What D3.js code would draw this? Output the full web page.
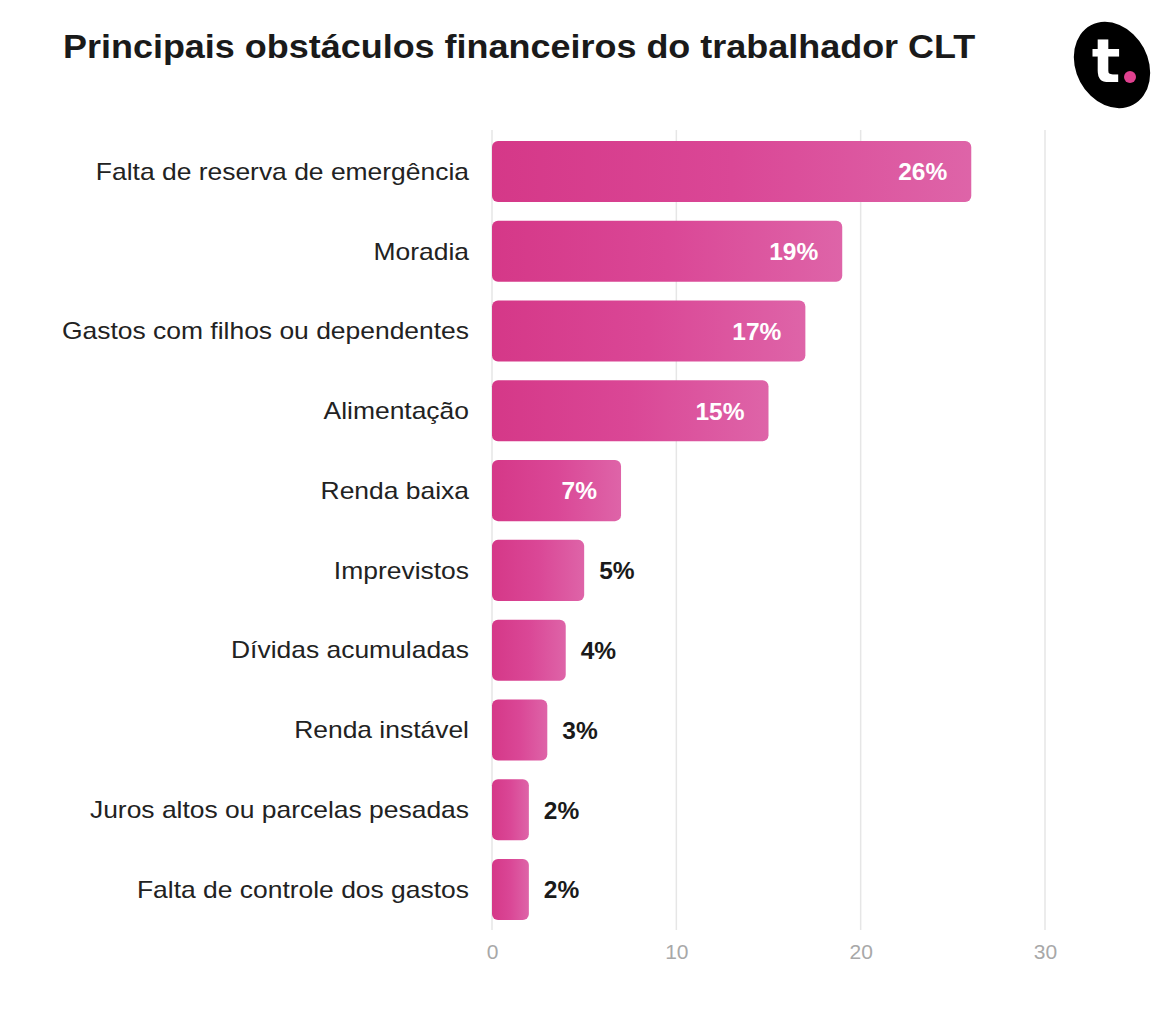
<!DOCTYPE html>
<html><head><meta charset="utf-8">
<script src="https://cdn.jsdelivr.net/npm/d3@7"></script>
<style>
html,body{margin:0;padding:0;background:#fff;}
svg{display:block;font-family:"Liberation Sans",Arial,sans-serif;}
</style></head>
<body><svg id="c" width="1166" height="1026"></svg>
<script>
const categories = ["Falta de reserva de emergência","Moradia","Gastos com filhos ou dependentes","Alimentação","Renda baixa","Imprevistos","Dívidas acumuladas","Renda instável","Juros altos ou parcelas pesadas","Falta de controle dos gastos"];
const values = [26,19,17,15,7,5,4,3,2,2];
const tickValues = [0,10,20,30];
const title = "Principais obstáculos financeiros do trabalhador CLT";

const svg = d3.select("#c");
const x = d3.scaleLinear().domain([0,30]).range([492,1045]);
const y = d3.scaleBand().domain(categories).range([133,928]).paddingInner(0.235).paddingOuter(0.1);

const defs = svg.append("defs");
const g = defs.append("linearGradient").attr("id","bg").attr("x1","0").attr("x2","1").attr("y1","0").attr("y2","0");
g.append("stop").attr("offset","0").attr("stop-color","#d53888");
g.append("stop").attr("offset","0.5").attr("stop-color","#da4796");
g.append("stop").attr("offset","1").attr("stop-color","#de64a8");

svg.append("text").attr("transform","translate(63,58) scale(1.09,1)").attr("font-size",33).attr("font-weight","bold").attr("fill","#1a1a1a").text(title);

// grid
svg.append("g").selectAll("line").data(tickValues).join("line")
  .attr("x1",d=>x(d)).attr("x2",d=>x(d)).attr("y1",130).attr("y2",930)
  .attr("stroke","#e6e6e6").attr("stroke-width",1.5);

// axis
const ax = svg.append("g").attr("transform","translate(0,930)").call(d3.axisBottom(x).tickValues(tickValues).tickSize(0).tickPadding(14));
ax.select(".domain").remove();
ax.selectAll("text").attr("font-size",21).attr("fill","#a8a8a8").attr("font-family","Liberation Sans, Arial, sans-serif");

// bars
svg.append("g").selectAll("rect").data(values).join("rect")
  .attr("x",x(0)).attr("y",(d,i)=>y(categories[i])).attr("width",d=>x(d)-x(0)).attr("height",y.bandwidth())
  .attr("rx",6).attr("fill","url(#bg)");

// category labels
svg.append("g").selectAll("text").data(categories).join("text")
  .attr("transform",d=>`translate(469,${y(d)+y.bandwidth()/2}) scale(1.15,1)`)
  .attr("dy","0.36em").attr("text-anchor","end")
  .attr("font-size",23).attr("fill","#222").text(d=>d);

// value labels
svg.append("g").selectAll("text").data(values).join("text")
  .attr("x",d=>d>=7 ? x(d)-24 : x(d)+15)
  .attr("y",(d,i)=>y(categories[i])+y.bandwidth()/2).attr("dy","0.36em")
  .attr("text-anchor",d=>d>=7?"end":"start")
  .attr("font-size",24.5).attr("font-weight","bold")
  .attr("fill",d=>d>=7?"#fff":"#1a1a1a").text(d=>d+"%");

// logo
const lg = svg.append("g").attr("transform","translate(1112,65)");
lg.append("ellipse").attr("rx",36).attr("ry",45).attr("transform","rotate(-28)").attr("fill","#000");
lg.append("text").attr("x",-6).attr("y",17).attr("text-anchor","middle").attr("font-size",60).attr("font-weight","bold").attr("fill","#fff").attr("font-family","DejaVu Sans, sans-serif").text("t");
lg.append("circle").attr("cx",18).attr("cy",12).attr("r",6).attr("fill","#e0418f");
</script></body></html>
